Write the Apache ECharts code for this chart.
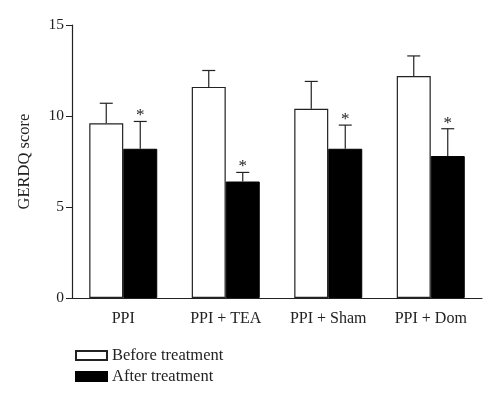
<!DOCTYPE html>
<html lang="en">

<head>
    <meta charset="UTF-8">
    <title>GERDQ score</title>
    <script src="https://cdn.jsdelivr.net/npm/echarts@6/dist/echarts.min.js"></script>
</head>

<body style="margin:0;background:#fff;">
    <div id="chart" style="width: 500px;height: 399px;"></div>
    <script>
        var categories = ['PPI', 'PPI + TEA', 'PPI + Sham', 'PPI + Dom']
        var beforeVals = [9.6, 11.6, 10.4, 12.2]
        var beforeSd = [1.1, 0.9, 1.5, 1.1]
        var afterVals = [8.2, 6.4, 8.2, 7.8]
        var afterSd = [1.5, 0.5, 1.3, 1.5]
        var yTicks = [0, 5, 10, 15]

        var serif = '"Liberation Serif", "DejaVu Serif", serif'
        var barW = 34

        // error bar rows: [category index, mean, sd, side(-1 before / 1 after), star]
        var errRows = []
        categories.forEach(function (c, i) {
            errRows.push([i, beforeVals[i], beforeSd[i], -1, 0])
            errRows.push([i, afterVals[i], afterSd[i], 1, 1])
        })

        function renderErr(params, api) {
            var base = api.coord([api.value(0), api.value(1)])
            var top = api.coord([api.value(0), api.value(1) + api.value(2)])
            var x = base[0] + api.value(3) * barW / 2
            var cap = 6.5
            var children = [
                { type: 'line', shape: { x1: x, y1: base[1], x2: x, y2: top[1] }, style: { stroke: '#222', lineWidth: 1.2 } },
                { type: 'line', shape: { x1: x - cap, y1: top[1], x2: x + cap, y2: top[1] }, style: { stroke: '#222', lineWidth: 1.2 } }
            ]
            if (api.value(4)) {
                children.push({
                    type: 'text',
                    style: { text: '*', x: x, y: top[1] + 3, align: 'center', verticalAlign: 'bottom', font: '17px ' + serif, fill: '#222' }
                })
            }
            return { type: 'group', children: children }
        }

        var myCharts = echarts.init(document.getElementById('chart'))
        var option = {
            animation: false,
            grid: { left: 72, right: 18, top: 25, bottom: 101 },
            legend: {
                orient: 'vertical',
                left: 70,
                top: 342,
                itemWidth: 31,
                itemHeight: 9,
                itemGap: 4,
                icon: 'rect',
                textStyle: { fontFamily: serif, fontSize: 16.5, color: '#222' },
                data: ['Before treatment', 'After treatment']
            },
            xAxis: {
                type: 'category',
                data: categories,
                axisLine: { lineStyle: { color: '#222', width: 1.2 } },
                axisTick: { alignWithLabel: true, length: 6, lineStyle: { color: '#222' } },
                axisLabel: { fontFamily: serif, fontSize: 16, color: '#222', margin: 13 }
            },
            yAxis: {
                type: 'value',
                name: 'GERDQ score',
                nameLocation: 'middle',
                nameGap: 39,
                nameTextStyle: { fontFamily: serif, fontSize: 16.5, color: '#222' },
                min: yTicks[0],
                max: yTicks[yTicks.length - 1],
                interval: 5,
                axisLine: { show: true, lineStyle: { color: '#222', width: 1.2 } },
                axisTick: { show: true, length: 6, lineStyle: { color: '#222' } },
                axisLabel: { fontFamily: serif, fontSize: 15.5, color: '#222', margin: 8 },
                splitLine: { show: false }
            },
            series: [
                {
                    name: 'Before treatment',
                    type: 'bar',
                    barWidth: barW,
                    barGap: '0%',
                    data: beforeVals,
                    itemStyle: { color: '#fff', borderColor: '#222', borderWidth: 1.2 }
                },
                {
                    name: 'After treatment',
                    type: 'bar',
                    barWidth: barW,
                    data: afterVals,
                    itemStyle: { color: '#000', borderColor: '#000', borderWidth: 1 }
                },
                {
                    type: 'custom',
                    renderItem: renderErr,
                    data: errRows,
                    z: 5
                }
            ]
        }
        myCharts.setOption(option)
    </script>
</body>

</html>
